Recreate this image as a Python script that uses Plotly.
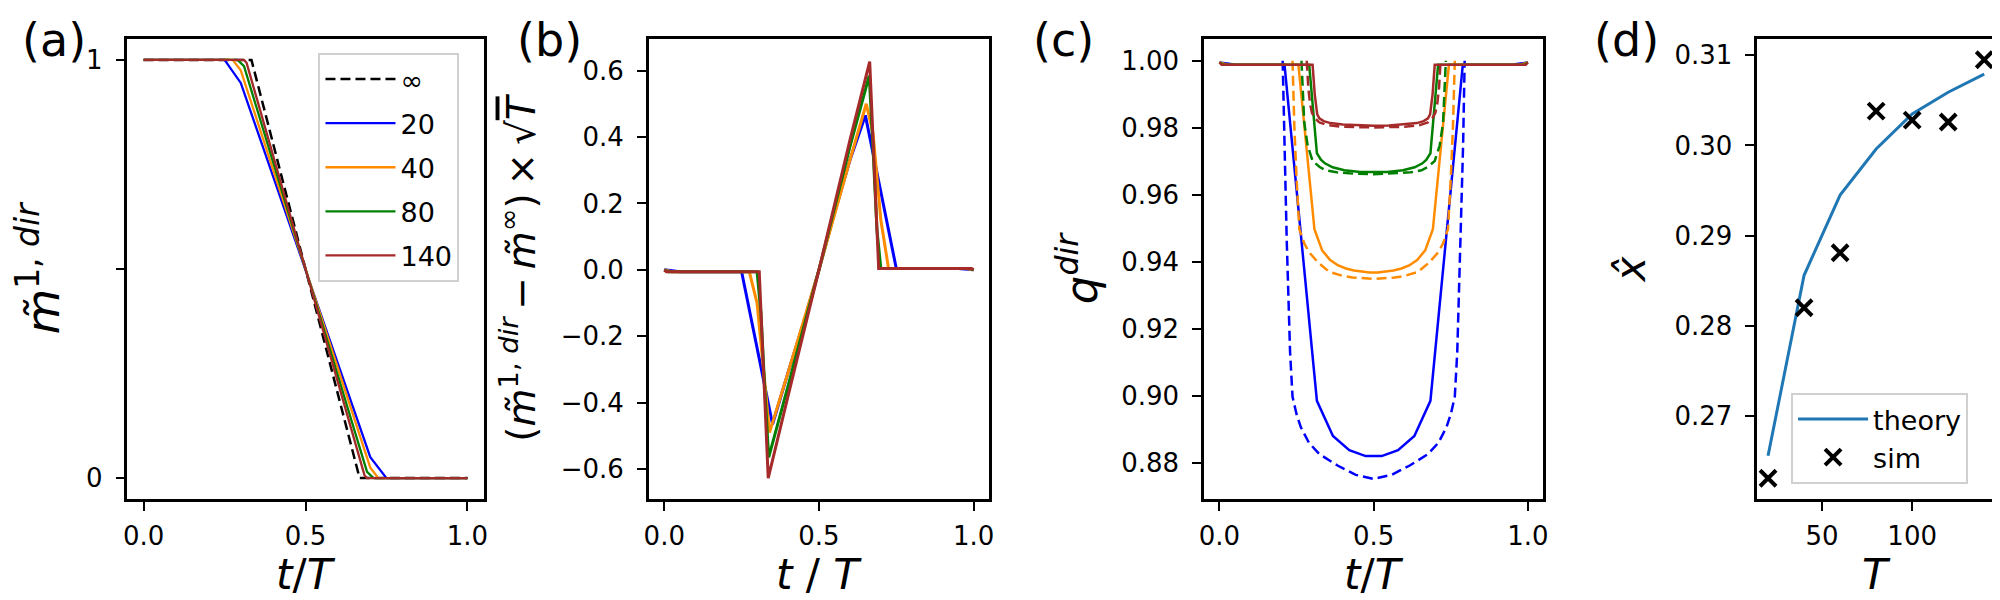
import plotly.graph_objects as go
from plotly.subplots import make_subplots

FONT = "DejaVu Sans"

# -------------------------------------------------
# Data
# -------------------------------------------------
T_labels = ["20", "40", "80", "140"]
colors = ["#0000ff", "#ff8c00", "#008000", "#a52a2a"]

# (a) m~^{1,dir} vs t/T
a_inf_t = [0.0, 0.333, 0.667, 1.0]
a_inf_v = [1.0, 1.0, 0.0, 0.0]
a_t = [
    [0.0, 0.25, 0.30, 0.70, 0.75, 1.0],
    [0.0, 0.275, 0.30, 0.70, 0.725, 1.0],
    [0.0, 0.29, 0.31, 0.69, 0.71, 1.0],
    [0.0, 0.31, 0.318, 0.682, 0.69, 1.0],
]
a_v = [
    [1.0, 1.0, 0.945, 0.05, 0.0, 0.0],
    [1.0, 1.0, 0.975, 0.025, 0.0, 0.0],
    [1.0, 1.0, 0.985, 0.015, 0.0, 0.0],
    [1.0, 1.0, 0.993, 0.007, 0.0, 0.0],
]

# (b) (m~ - m~inf) * sqrt(T)
b_t = [
    [0.0, 0.05, 0.25, 0.30, 0.35, 0.40, 0.45, 0.50, 0.55, 0.60, 0.65, 0.70, 0.75, 0.95, 1.0],
    [0.0, 0.025, 0.275, 0.30, 0.325, 0.34, 0.40, 0.50, 0.60, 0.653, 0.675, 0.70, 0.725, 0.975, 1.0],
    [0.0, 0.0125, 0.30, 0.3125, 0.325, 0.3375, 0.40, 0.50, 0.60, 0.6625, 0.675, 0.6875, 0.70, 0.9875, 1.0],
    [0.0, 0.007, 0.307, 0.336, 0.40, 0.50, 0.60, 0.664, 0.693, 0.993, 1.0],
]
b_v = [
    [0.0, -0.006, -0.006, -0.23, -0.465, -0.31, -0.16, 0.0, 0.17, 0.33, 0.465, 0.235, 0.004, 0.004, 0.0],
    [0.0, -0.006, -0.006, -0.10, -0.34, -0.49, -0.31, 0.0, 0.33, 0.50, 0.41, 0.15, 0.004, 0.004, 0.0],
    [0.0, -0.006, -0.006, -0.13, -0.36, -0.565, -0.35, 0.0, 0.37, 0.585, 0.36, 0.12, 0.004, 0.004, 0.0],
    [0.0, -0.006, -0.006, -0.627, -0.38, 0.0, 0.39, 0.627, 0.004, 0.004, 0.0],
]

# (c) q^dir: simulation (solid) and theory (dashed)
c_sim_t = [
    [0.0, 0.053, 0.211, 0.263, 0.316, 0.368, 0.421, 0.474, 0.526, 0.579, 0.632, 0.684, 0.737, 0.789, 0.947, 1.0],
    [0.0, 0.026, 0.256, 0.282, 0.308, 0.333, 0.359, 0.385, 0.410, 0.436, 0.462, 0.487, 0.513, 0.538,
     0.564, 0.590, 0.615, 0.641, 0.667, 0.692, 0.718, 0.744, 0.974, 1.0],
    [0.0, 0.013, 0.291, 0.304, 0.316, 0.329, 0.342, 0.367, 0.405, 0.456, 0.500, 0.544, 0.595, 0.633,
     0.658, 0.671, 0.684, 0.696, 0.709, 0.987, 1.0],
    [0.0, 0.007, 0.302, 0.309, 0.317, 0.324, 0.338, 0.360, 0.400, 0.450, 0.500, 0.550, 0.600, 0.640,
     0.662, 0.676, 0.683, 0.691, 0.698, 0.993, 1.0],
]
c_sim_v = [
    [0.9995, 0.9988, 0.9988, 0.948, 0.8985, 0.888, 0.8838, 0.882, 0.882, 0.8838, 0.888, 0.8985, 0.948,
     0.9988, 0.9988, 0.9995],
    [0.9995, 0.9988, 0.9988, 0.974, 0.9497, 0.9434, 0.9405, 0.9389, 0.938, 0.9374, 0.937, 0.9368, 0.9368,
     0.937, 0.9374, 0.938, 0.9389, 0.9405, 0.9434, 0.9497, 0.974, 0.9988, 0.9988, 0.9995],
    [0.9995, 0.9988, 0.9988, 0.985, 0.9724, 0.9705, 0.9694, 0.9682, 0.9673, 0.9668, 0.9667, 0.9668,
     0.9673, 0.9682, 0.9694, 0.9705, 0.9724, 0.985, 0.9988, 0.9988, 0.9995],
    [0.9995, 0.9988, 0.9988, 0.990, 0.984, 0.9828, 0.982, 0.9814, 0.981, 0.9807, 0.9806, 0.9807, 0.981,
     0.9814, 0.982, 0.9828, 0.984, 0.990, 0.9988, 0.9988, 0.9995],
]
c_th_t = [
    [0.205, 0.21, 0.218, 0.229, 0.237, 0.25, 0.264, 0.29, 0.324, 0.383, 0.442, 0.5,
     0.558, 0.617, 0.676, 0.71, 0.736, 0.75, 0.763, 0.771, 0.782, 0.79, 0.795],
    [0.237, 0.243, 0.25, 0.259, 0.275, 0.291, 0.32, 0.356, 0.40, 0.431, 0.5,
     0.569, 0.60, 0.644, 0.68, 0.709, 0.725, 0.741, 0.75, 0.757, 0.763],
    [0.266, 0.27, 0.275, 0.286, 0.302, 0.325, 0.345, 0.38, 0.421, 0.5,
     0.579, 0.62, 0.655, 0.675, 0.698, 0.714, 0.725, 0.73, 0.734],
    [0.283, 0.288, 0.294, 0.30, 0.31, 0.324, 0.35, 0.40, 0.5,
     0.60, 0.65, 0.676, 0.69, 0.70, 0.706, 0.712, 0.717],
]
c_th_v = [
    [1.0, 0.975, 0.947, 0.913, 0.8997, 0.8945, 0.8906, 0.886, 0.8826, 0.8792, 0.8764, 0.8752,
     0.8764, 0.8792, 0.8826, 0.886, 0.8906, 0.8945, 0.8997, 0.913, 0.947, 0.975, 1.0],
    [1.0, 0.98, 0.965, 0.9497, 0.9455, 0.9428, 0.9398, 0.937, 0.9358, 0.9353, 0.9349,
     0.9353, 0.9358, 0.937, 0.9398, 0.9428, 0.9455, 0.9497, 0.965, 0.98, 1.0],
    [1.0, 0.99, 0.9815, 0.9747, 0.9701, 0.9683, 0.9673, 0.9667, 0.9664, 0.9661,
     0.9664, 0.9667, 0.9673, 0.9683, 0.9701, 0.9747, 0.9815, 0.99, 1.0],
    [1.0, 0.992, 0.987, 0.9845, 0.9828, 0.9816, 0.9808, 0.9803, 0.9801,
     0.9803, 0.9808, 0.9816, 0.9828, 0.9845, 0.987, 0.992, 1.0],
]

# (d) x-hat vs T
d_T = [20, 40, 60, 80, 100, 120, 140]
d_theory = [0.2656, 0.2856, 0.2945, 0.2996, 0.3035, 0.3059, 0.3079]
d_sim = [0.2631, 0.2820, 0.2881, 0.3038, 0.3028, 0.3026, 0.3095]

# -------------------------------------------------
# Figure
# -------------------------------------------------
fig = make_subplots(rows=1, cols=4)

# (a)
fig.add_trace(
    go.Scatter(x=a_inf_t, y=a_inf_v, mode="lines", name="∞",
               line=dict(color="black", width=2.5, dash="10px,5px"), legendgroup="inf"),
    row=1, col=1,
)
for i in range(4):
    fig.add_trace(
        go.Scatter(x=a_t[i], y=a_v[i], mode="lines", name=T_labels[i],
                   line=dict(color=colors[i], width=2.3), legendgroup=T_labels[i]),
        row=1, col=1,
    )

# (b)
for i in range(4):
    fig.add_trace(
        go.Scatter(x=b_t[i], y=b_v[i], mode="lines", showlegend=False,
                   line=dict(color=colors[i], width=3)),
        row=1, col=2,
    )

# (c)
for i in range(4):
    fig.add_trace(
        go.Scatter(x=c_sim_t[i], y=c_sim_v[i], mode="lines", showlegend=False,
                   line=dict(color=colors[i], width=2.5)),
        row=1, col=3,
    )
    fig.add_trace(
        go.Scatter(x=c_th_t[i], y=c_th_v[i], mode="lines", showlegend=False,
                   line=dict(color=colors[i], width=2.5, dash="10px,5px")),
        row=1, col=3,
    )

# (d)
fig.add_trace(
    go.Scatter(x=d_T, y=d_theory, mode="lines", name="theory",
               line=dict(color="#1f77b4", width=3), legend="legend2"),
    row=1, col=4,
)
fig.add_trace(
    go.Scatter(x=d_T, y=d_sim, mode="markers", name="sim", legend="legend2",
               marker=dict(symbol="x-thin", size=16, color="black",
                           line=dict(color="black", width=4))),
    row=1, col=4,
)

# -------------------------------------------------
# Axes
# -------------------------------------------------
def title_font(size):
    return dict(family=FONT, size=size, color="black")


axis_common = dict(
    showline=True, mirror=True, linecolor="black", linewidth=2.5,
    ticks="outside", ticklen=9, tickwidth=2, tickcolor="black",
    showgrid=False, zeroline=False,
    tickfont=dict(family=FONT, size=26, color="black"),
)
domains = [(115, 473), (639, 981), (1197, 1538), (1753, 1992)]
for c, (l, r) in enumerate(domains, start=1):
    fig.update_xaxes(domain=[l / 2000, r / 2000], row=1, col=c, ticklabelstandoff=3, **axis_common)
    fig.update_yaxes(row=1, col=c, ticklabelstandoff=8, **axis_common)

fig.update_xaxes(range=[-0.05, 1.05], tickvals=[0, 0.5, 1.0], ticktext=["0.0", "0.5", "1.0"], col=1)
fig.update_xaxes(range=[-0.05, 1.05], tickvals=[0, 0.5, 1.0], ticktext=["0.0", "0.5", "1.0"], col=2)
fig.update_xaxes(range=[-0.05, 1.05], tickvals=[0, 0.5, 1.0], ticktext=["0.0", "0.5", "1.0"], col=3)
fig.update_xaxes(range=[14, 146], tickvals=[50, 100], col=4)

fig.update_yaxes(range=[-0.05, 1.05], tickvals=[0, 0.5, 1], ticktext=["0", " ", "1"], col=1,
                 title=dict(text="<i>m\u0303</i><sup>1, <i>dir</i></sup>",
                            font=title_font(47), standoff=14))
fig.update_yaxes(range=[-0.69, 0.695], tickvals=[-0.6, -0.4, -0.2, 0.0, 0.2, 0.4, 0.6],
                 tickformat=".1f", col=2,
                 title=dict(text="(<i>m\u0303</i><sup>1, <i>dir</i></sup>\u2009−\u2009<i>m\u0303</i>"
                                 "<sup>∞</sup>)\u2009×\u2009√"
                                 "<span style='text-decoration:overline'><i>T</i></span>",
                            font=title_font(39), standoff=14))
fig.update_yaxes(range=[0.8692, 1.0065], tickvals=[0.88, 0.90, 0.92, 0.94, 0.96, 0.98, 1.00],
                 tickformat=".2f", col=3,
                 title=dict(text="<i>q</i><sup><i>dir</i></sup>", font=title_font(45), standoff=10))
fig.update_yaxes(range=[0.2608, 0.3118], tickvals=[0.27, 0.28, 0.29, 0.30, 0.31],
                 tickformat=".2f", col=4,
                 title=dict(text="<i>x\u0302</i>", font=title_font(42), standoff=16))

# -------------------------------------------------
# Labels
# -------------------------------------------------
def px_x(p):
    return p / 2000


def px_y(p):
    return 1 - (p - 31) / 460


annotations = []
for txt, xc in [("(a)", 41), ("(b)", 539), ("(c)", 1056), ("(d)", 1622)]:
    annotations.append(dict(text=txt, x=px_x(xc), y=px_y(32), xref="paper", yref="paper",
                            showarrow=False, xanchor="center", yanchor="middle",
                            font=dict(family=FONT, size=46, color="black")))

xt = "<i>t</i>/<i>T</i>"
for txt, (l, r) in zip([xt, "<i>t</i> / <i>T</i>", xt, "<i>T</i>"], domains):
    annotations.append(dict(text=txt, x=px_x((l + r) / 2), y=px_y(566), xref="paper", yref="paper",
                            showarrow=False, xanchor="center", yanchor="middle",
                            font=dict(family=FONT, size=42, color="black")))

fig.update_layout(
    width=2000,
    height=600,
    template="plotly_white",
    plot_bgcolor="white",
    paper_bgcolor="white",
    margin=dict(l=0, r=0, t=31, b=109),
    annotations=annotations,
    font=dict(family=FONT, color="black"),
    legend=dict(
        x=px_x(307), y=px_y(45), xanchor="left", yanchor="top",
        bgcolor="white", bordercolor="#d0d0d0", borderwidth=2,
        font=dict(family=FONT, size=27, color="black"),
        itemwidth=70, tracegroupgap=6, traceorder="grouped",
    ),
    legend2=dict(
        x=px_x(1787), y=px_y(385), xanchor="left", yanchor="top",
        bgcolor="white", bordercolor="#d0d0d0", borderwidth=2,
        font=dict(family=FONT, size=27, color="black"),
        itemwidth=70,
    ),
)

fig.write_html("out.html")
